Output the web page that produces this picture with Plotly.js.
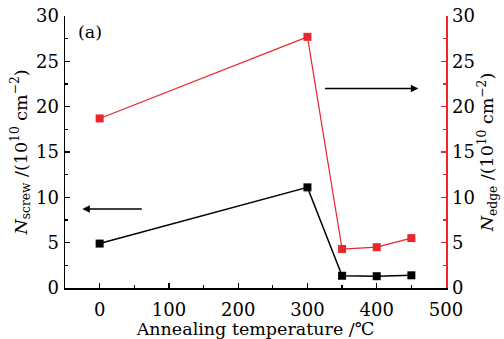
<!DOCTYPE html>
<html><head><meta charset="utf-8">
<script src="https://cdn.plot.ly/plotly-3.0.1.min.js"></script>
<style>body{margin:0;padding:0;background:#fff}#chart{width:504px;height:339px}</style>
</head><body><div id="chart"></div>
<script>
const temperature = [0, 300, 350, 400, 450];
const nScrew = [4.9, 11.1, 1.35, 1.3, 1.4];
const nEdge = [18.7, 27.7, 4.3, 4.5, 5.5];
const xTicks = [0, 100, 200, 300, 400, 500];
const yTicks = [0, 5, 10, 15, 20, 25, 30];

const font = {family: 'DejaVu Serif', size: 17.5, color: '#000'};
const tickFont = {family: 'DejaVu Serif', size: 18, color: '#000'};
const red = '#e8262b';

const traces = [
  {x: temperature, y: nScrew, type: 'scatter', mode: 'lines+markers', xaxis: 'x', yaxis: 'y',
   line: {color: '#000', width: 1.5}, marker: {symbol: 'square', size: 8, color: '#000'}},
  {x: temperature, y: nEdge, type: 'scatter', mode: 'lines+markers', xaxis: 'x', yaxis: 'y2',
   line: {color: red, width: 1.2}, marker: {symbol: 'square', size: 8, color: red}}
];

const layout = {
  width: 504, height: 339,
  margin: {l: 65, r: 58, t: 16, b: 51},
  paper_bgcolor: '#fff', plot_bgcolor: '#fff',
  showlegend: false,
  font: font,
  xaxis: {
    range: [-50, 500], tickvals: xTicks, ticks: 'inside', ticklen: 5, tickwidth: 1.2, tickcolor: '#000',
    showline: true, linecolor: '#000', linewidth: 1.5, showgrid: false, zeroline: false,
    minor: {dtick: 50, tick0: 0, ticks: 'inside', ticklen: 3, tickcolor: '#000', showgrid: false},
    title: {text: 'Annealing temperature /℃', font: font, standoff: 0},
    tickfont: tickFont, ticklabelstandoff: 5
  },
  yaxis: {
    range: [0, 30], tickvals: yTicks, ticks: 'inside', ticklen: 5, tickwidth: 1.2, tickcolor: '#000',
    showline: true, linecolor: '#000', linewidth: 1.5, showgrid: false, zeroline: false,
    minor: {dtick: 2.5, tick0: 0, ticks: 'inside', ticklen: 3, tickcolor: '#000', showgrid: false},
    title: {text: '<i>N</i><sub>screw</sub> /(10<sup>10</sup> cm<sup>−2</sup>)', font: font, standoff: 4},
    tickfont: tickFont, ticklabelstandoff: 1
  },
  yaxis2: {
    range: [0, 30], tickvals: yTicks, overlaying: 'y', side: 'right', anchor: 'x',
    ticks: 'inside', ticklen: 5, tickwidth: 1.2, tickcolor: red,
    showline: true, linecolor: red, linewidth: 1.5, showgrid: false, zeroline: false,
    minor: {dtick: 2.5, tick0: 0, ticks: 'inside', ticklen: 3, tickcolor: red, showgrid: false},
    title: {text: '<i>N</i><sub>edge</sub> /(10<sup>10</sup> cm<sup>−2</sup>)', font: font, standoff: 6},
    tickfont: tickFont, ticklabelstandoff: 1
  },
  annotations: [
    {xref: 'paper', yref: 'paper', x: 0.03, y: 0.985, xanchor: 'left', yanchor: 'top',
     text: '(a)', showarrow: false, font: font},
    {x: -25, y: 8.7, xref: 'x', yref: 'y', ax: 63, ay: 8.7, axref: 'x', ayref: 'y',
     text: '', showarrow: true, arrowhead: 2, arrowsize: 1, arrowwidth: 1.5, arrowcolor: '#000'},
    {x: 460, y: 22, xref: 'x', yref: 'y', ax: 323, ay: 22, axref: 'x', ayref: 'y',
     text: '', showarrow: true, arrowhead: 2, arrowsize: 1, arrowwidth: 1.5, arrowcolor: '#000'}
  ]
};

Plotly.newPlot('chart', traces, layout, {displayModeBar: false, staticPlot: true});
</script></body></html>
